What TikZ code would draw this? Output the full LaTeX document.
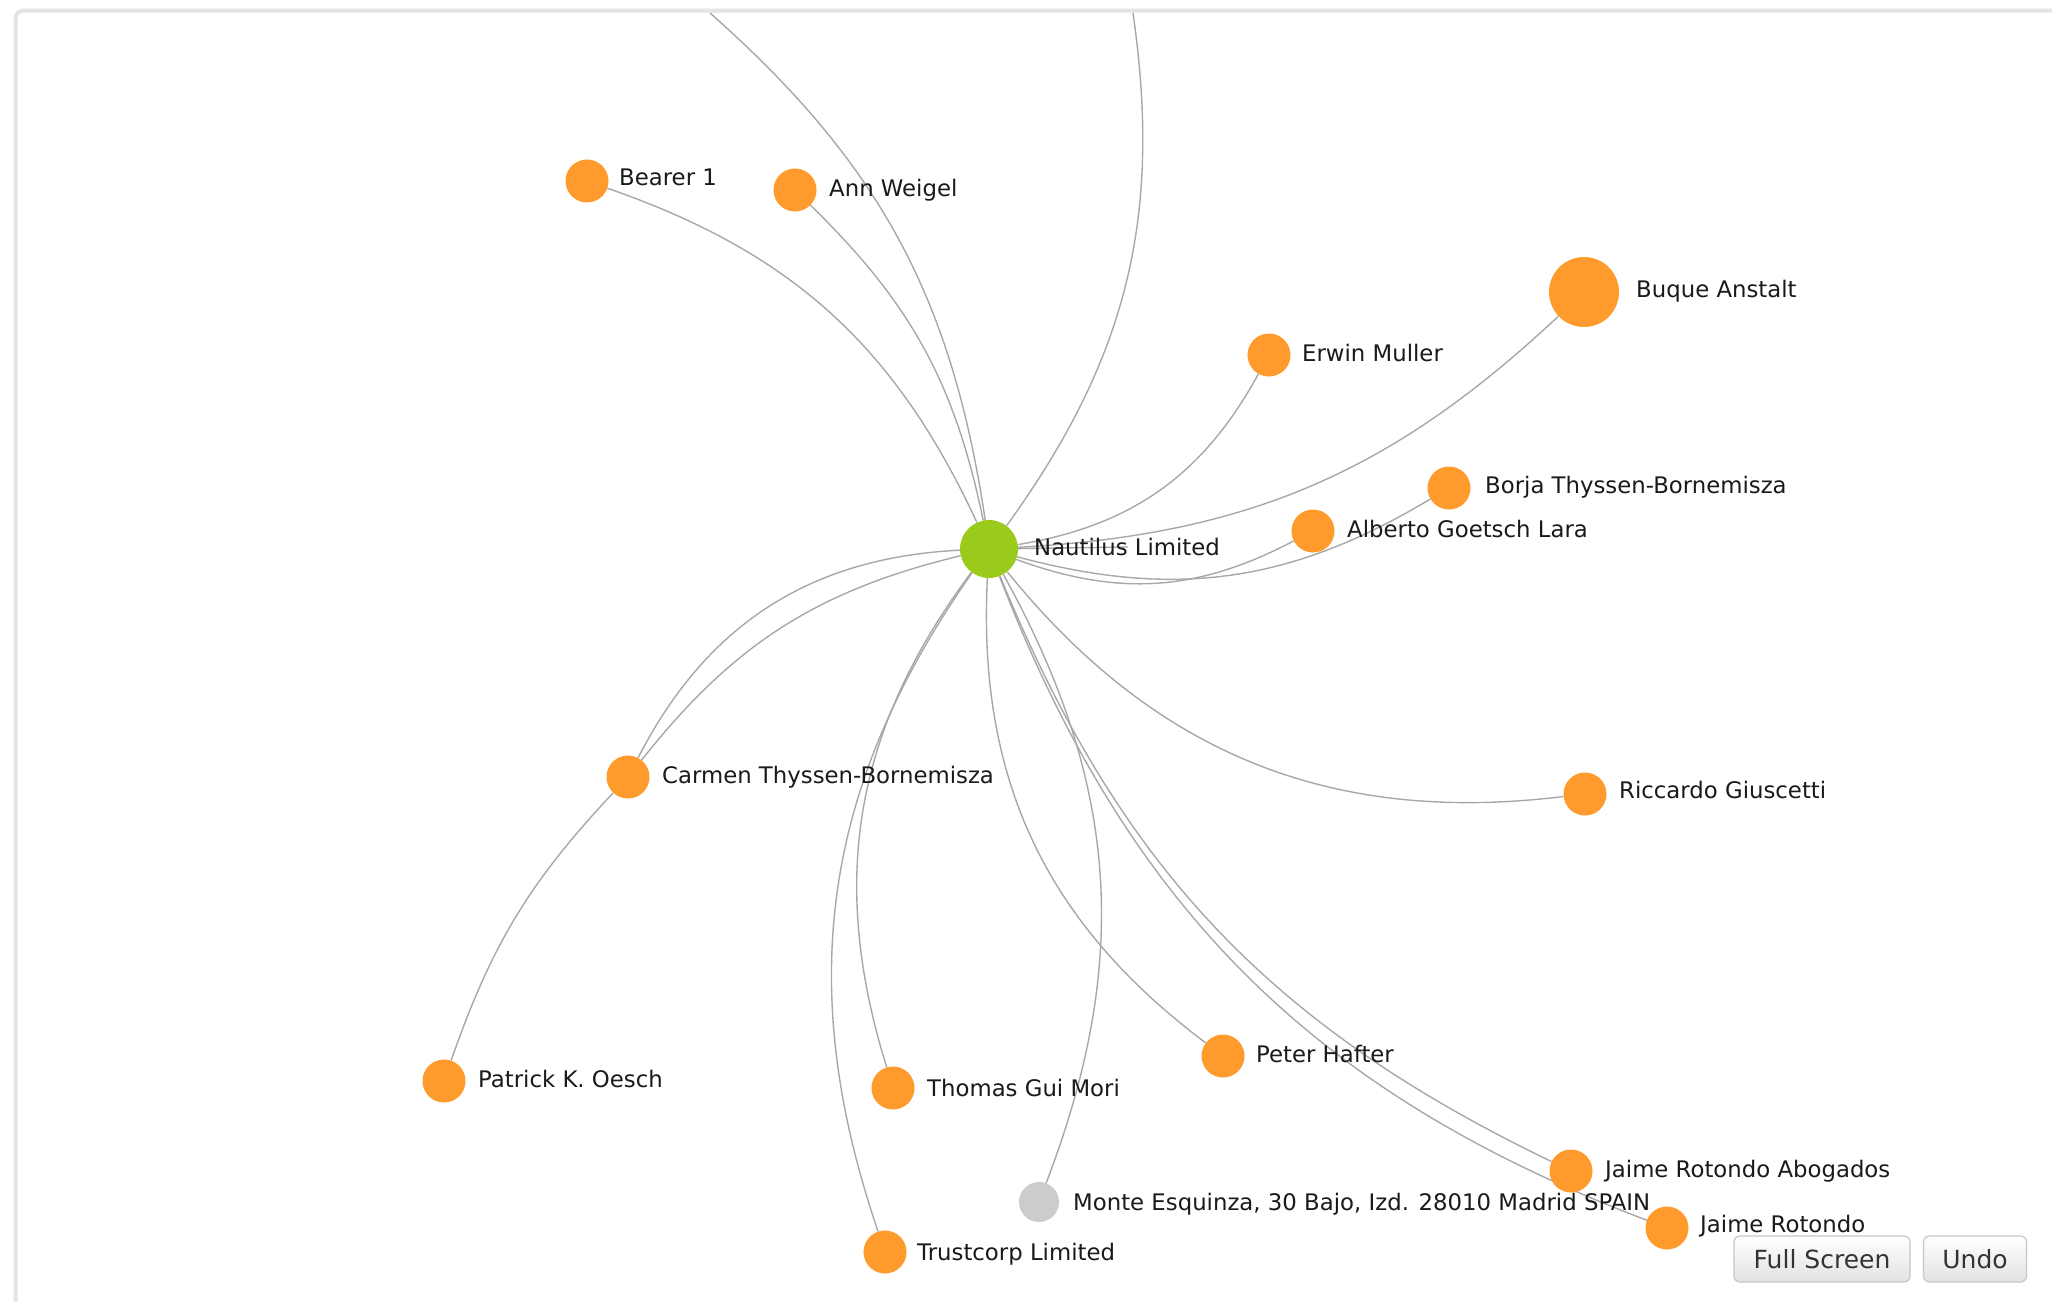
\documentclass[tikz,border=0pt]{standalone}
\usepackage{fontspec}
\setmainfont{DejaVu Sans}
\usetikzlibrary{backgrounds}
\definecolor{orangenode}{HTML}{FF9A2C}
\definecolor{greennode}{HTML}{9ACB1C}
\definecolor{graynode}{HTML}{CCCCCC}
\definecolor{edgegray}{HTML}{A8A8A8}
\definecolor{framegray}{HTML}{E4E4E4}
\definecolor{labeltext}{HTML}{1A1A1A}
\definecolor{btnborder}{HTML}{C6C6C6}
\definecolor{btnbottom}{HTML}{E2E2E2}
\definecolor{btntext}{HTML}{333333}
\begin{document}
\begin{tikzpicture}[x=1pt,y=1pt,
  ent/.style={circle, fill=orangenode, minimum size=43pt, inner sep=0pt},
  bigent/.style={circle, fill=orangenode, minimum size=70pt, inner sep=0pt},
  hub/.style={circle, fill=greennode, minimum size=58pt, inner sep=0pt},
  addr/.style={circle, fill=graynode, minimum size=40pt, inner sep=0pt},
  lbl/.style={anchor=west, inner sep=0pt, text height=16pt, text depth=0pt,
    font=\fontsize{22.8}{26}\selectfont, text=labeltext},
  link/.style={draw=edgegray, line width=1.4pt},
  btn/.style={draw=btnborder, line width=1.2pt, rounded corners=6pt,
    top color=white, bottom color=btnbottom, minimum height=46pt,
    inner sep=0pt, font=\fontsize{25}{28}\selectfont, text=btntext}
]
\useasboundingbox (0,0) rectangle (2052,-1301);

% nodes
\node[hub] (N) at (989,-549) {};
\node[ent] (bearer) at (587,-181) {};
\node[ent] (ann) at (795,-190) {};
\node[bigent] (buque) at (1584,-292) {};
\node[ent] (erwin) at (1269,-355) {};
\node[ent] (borja) at (1449,-488) {};
\node[ent] (alberto) at (1313,-531) {};
\node[ent] (carmen) at (628,-777) {};
\node[ent] (ric) at (1585,-794) {};
\node[ent] (patrick) at (444,-1081) {};
\node[ent] (thomas) at (893,-1088) {};
\node[ent] (peter) at (1223,-1056) {};
\node[ent] (jra) at (1571,-1171) {};
\node[addr] (monte) at (1039,-1202) {};
\node[ent] (jr) at (1667,-1228) {};
\node[ent] (trust) at (885,-1252) {};

\coordinate (topa) at (710,-13);
\coordinate (topb) at (1133,-13);
\coordinate (nstrike) at (1128,-547);

% labels
\node[lbl] (lN) at (1034,-547) {Nautilus Limited};
\node[lbl] (lbearer) at (619,-177) {Bearer 1};
\node[lbl] (lann) at (829,-188) {Ann Weigel};
\node[lbl] (lbuque) at (1636,-289) {Buque Anstalt};
\node[lbl] (lerwin) at (1302,-353) {Erwin Muller};
\node[lbl] (lborja) at (1485,-485) {Borja Thyssen-Bornemisza};
\node[lbl] (lalberto) at (1347,-529) {Alberto Goetsch Lara};
\node[lbl] (lcarmen) at (662,-775) {Carmen Thyssen-Bornemisza};
\node[lbl] (lric) at (1619,-790) {Riccardo Giuscetti};
\node[lbl] (lpatrick) at (478,-1079) {Patrick K. Oesch};
\node[lbl] (lthomas) at (927,-1088) {Thomas Gui Mori};
\node[lbl] (lpeter) at (1256,-1054) {Peter Hafter};
\node[lbl] (ljra) at (1605,-1169) {Jaime Rotondo Abogados};
\node[lbl] (lmonte) at (1073,-1202) {Monte Esquinza, 30 Bajo, Izd. 28010 Madrid SPAIN};
\node[lbl] (ljr) at (1700,-1224) {Jaime Rotondo};
\node[lbl] (ltrust) at (917,-1252) {Trustcorp Limited};

% buttons
\node[btn, minimum width=176pt] (full) at (1822,-1259) {Full Screen};
\node[btn, minimum width=103pt] (undo) at (1975,-1259) {Undo};

\begin{scope}[on background layer]
  \fill[white] (0,0) rectangle (2052,-1301);
  \draw[framegray, line width=4pt, rounded corners=8pt]
    (2200,-10.5) -- (15.5,-10.5) -- (15.5,-1400);
  \draw[link] (N) to[bend right=23] (bearer);
  \draw[link] (N) to[bend right=17] (ann);
  \draw[link] (N) to[bend right=20] (topa);
  \draw[link] (N) to[bend right=22] (topb);
  \draw[link] (N) to[bend right=26] (erwin);
  \draw[link] (N) to[bend right=20] (buque);
  \draw[link] (N) to[bend right=24] (alberto);
  \draw[link] (N) to[bend right=23] (borja);
  \draw[link] (N) -- (nstrike);
  \draw[link] (N) to[bend right=30] (carmen);
  \draw[link] (N) to[bend right=19] (carmen);
  \draw[link] (carmen) to[bend right=12] (patrick);
  \draw[link] (N) to[bend right=27] (thomas);
  \draw[link] (N) to[bend right=27] (trust);
  \draw[link] (N) to[bend left=25] (monte);
  \draw[link] (N) to[bend right=28] (peter);
  \draw[link] (N) to[bend right=21] (jra);
  \draw[link] (N) to[bend right=24] (jr);
  \draw[link] (N) to[bend right=29] (ric);
\end{scope}
\end{tikzpicture}
\end{document}
